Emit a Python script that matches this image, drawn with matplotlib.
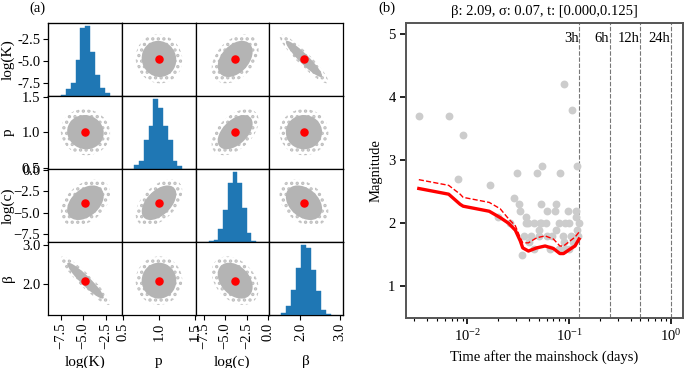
import numpy as np
import matplotlib
matplotlib.use("Agg")
import matplotlib.pyplot as plt
from matplotlib.patches import Ellipse
from matplotlib.ticker import FuncFormatter

plt.rcParams['font.family'] = ['Liberation Serif', 'DejaVu Serif']
plt.rcParams['mathtext.fontset'] = 'stix'
plt.rcParams['font.size'] = 10
plt.rcParams['hatch.linewidth'] = 1.6

# ---------------- Panel (a) data ----------------
param_names = ['log(K)', 'p', 'log(c)', 'β']
param_best = [-4.75, 1.0, -3.85, 2.09]          # red dots
param_std = [0.88, 0.105, 0.88, 0.20]           # spread of posterior cloud
# pairwise correlations of the posterior samples (i<j)
pair_corr = {(0, 1): -0.05, (0, 2): 0.40, (0, 3): -0.93,
             (1, 2): 0.50, (1, 3): 0.00, (2, 3): -0.35}
axis_limits = [(-8.9, -0.73), (0.48, 1.51), (-8.45, 0.1), (1.21, 3.08)]
axis_ticks = [[-7.5, -5.0, -2.5], [0.5, 1.0, 1.5], [-7.5, -5.0, -2.5, 0.0], [2.0, 3.0]]

# histograms (first bin edge, bin width, counts)
hist_start = [-7.5, 0.657, -6.87, 1.515]
hist_width = [0.55, 0.0665, 0.543, 0.125]
hist_counts = [
    [3, 20, 38, 108, 202, 208, 132, 63, 25, 9],
    [12, 25, 86, 128, 208, 182, 128, 86, 25, 10],
    [2, 7, 39, 94, 177, 207, 177, 101, 26, 3],
    [7, 28, 73, 140, 207, 200, 135, 72, 14, 4],
]

# ---------------- Panel (b) data ----------------
ev_time = [0.00334, 0.00656, 0.00914, 0.00816, 0.0167, 0.0307, 0.0482, 0.0543, 0.081, 0.0899,
           0.106, 0.119, 0.0285, 0.0324, 0.0330, 0.0200, 0.0264, 0.0376, 0.0376, 0.0531,
           0.0608, 0.0746, 0.0720, 0.097, 0.117, 0.117, 0.124, 0.0397, 0.0450, 0.0530,
           0.0594, 0.0786, 0.090, 0.100, 0.0356, 0.0421, 0.050, 0.0676, 0.0867, 0.105,
           0.122, 0.060, 0.0344, 0.040, 0.045, 0.065, 0.080, 0.090, 0.100, 0.110,
           0.050, 0.075, 0.088, 0.120, 0.052]
ev_mag = [3.7, 3.7, 3.4, 2.7, 2.6, 2.8, 2.8, 2.9, 2.8, 4.2,
          3.8, 2.9, 2.4, 2.3, 2.2, 2.1, 2.0, 2.1, 2.0, 2.3,
          2.2, 2.3, 2.2, 2.2, 2.2, 2.1, 2.0, 2.0, 2.0, 2.0,
          2.0, 2.0, 2.0, 2.0, 1.8, 1.8, 1.8, 1.8, 1.8, 1.8,
          1.8, 1.8, 1.5, 1.7, 1.6, 1.6, 1.6, 1.6, 1.6, 1.7,
          1.9, 1.9, 1.7, 1.9, 2.0]

mc_time = [0.00334, 0.00656, 0.0085, 0.0091, 0.0164, 0.0210, 0.0254, 0.0296, 0.0331, 0.0350,
           0.0398, 0.048, 0.058, 0.070, 0.081, 0.088, 0.102, 0.114, 0.125]
mc_solid = [2.55, 2.46, 2.30, 2.27, 2.19, 2.09, 2.00, 1.89, 1.72, 1.61,
            1.56, 1.61, 1.64, 1.60, 1.52, 1.52, 1.59, 1.64, 1.75]
mc_dashed = [2.69, 2.60, 2.46, 2.41, 2.33, 2.23, 2.07, 1.96, 1.77, 1.69,
             1.69, 1.77, 1.80, 1.75, 1.64, 1.64, 1.72, 1.78, 1.86]

vline_times = [0.125, 0.25, 0.5, 1.0]
vline_labels = ['3h', '6h', '12h', '24h']
title_b = 'β: 2.09, σ: 0.07, t: [0.000,0.125]'

fig = plt.figure(figsize=(6.85, 3.68), dpi=100)
W, H = 685.0, 368.0

minus_fmt = FuncFormatter(lambda v, pos: ('%.1f' % v).replace('-', '\u2212'))

# ---------------- Panel (a) ----------------
left, right, top, bottom = 48 / W, 343 / W, 1 - 23 / H, 1 - 315 / H
n = 4
cw = (right - left) / n
ch = (top - bottom) / n
cloud_color = '#b4b4b4'
for i in range(n):
    for j in range(n):
        ax = fig.add_axes([left + j * cw, top - (i + 1) * ch, cw, ch])
        ax.set_xlim(axis_limits[j])
        ax.set_ylim(axis_limits[i])
        for s in ax.spines.values():
            s.set_linewidth(0.9)
        if i == j:
            axh = ax.twinx()
            edges = hist_start[i] + hist_width[i] * np.arange(len(hist_counts[i]))
            axh.bar(edges, hist_counts[i], width=hist_width[i], align='edge',
                    color='#1f77b4', edgecolor='#1f77b4', linewidth=0.3)
            axh.set_yticks([])
            axh.set_ylim(0, max(hist_counts[i]) * 1.05)
        else:
            a, b = (min(i, j), max(i, j))
            r = pair_corr[(a, b)]
            sx, sy = param_std[j], param_std[i]
            cov = np.array([[sx * sx, r * sx * sy], [r * sx * sy, sy * sy]])
            vals, vecs = np.linalg.eigh(cov)
            ang = np.degrees(np.arctan2(vecs[1, 1], vecs[0, 1]))
            center = (param_best[j], param_best[i])
            for k, kw in [(3.1, dict(facecolor='none', edgecolor='#bdbdbd', hatch='...', linewidth=0)),
                          (2.3, dict(facecolor=cloud_color, edgecolor='none'))]:
                e = Ellipse(center, 2 * k * np.sqrt(vals[1]), 2 * k * np.sqrt(vals[0]),
                            angle=ang, **kw)
                ax.add_patch(e)
            ax.scatter([param_best[j]], [param_best[i]], s=26, color='red', zorder=5)
        ax.tick_params(direction='out', length=3.5, width=0.8, labelsize=10.5, pad=2)
        if j == 0:
            ax.set_yticks(axis_ticks[i])
            if i == 0:
                ax.set_yticklabels(['%.1f' % v for v in axis_ticks[i]])
            else:
                ax.yaxis.set_major_formatter(minus_fmt)
            ax.set_ylabel(param_names[i], fontsize=11)
            ax.yaxis.set_label_coords(-0.45, 0.5)
        else:
            ax.set_yticks([])
        if i == n - 1:
            ax.set_xticks(axis_ticks[j])
            ax.xaxis.set_major_formatter(minus_fmt)
            ax.tick_params(axis='x', labelrotation=90)
            ax.set_xlabel(param_names[j], fontsize=11)
            ax.xaxis.set_label_coords(0.5, -0.55)
        else:
            ax.set_xticks([])

fig.text(37 / W, 1 - 8 / H, '(a)', ha='center', va='center', fontsize=10.5)

# ---------------- Panel (b) ----------------
axb = fig.add_axes([406 / W, 1 - 318 / H, (683 - 406) / W, (318 - 23) / H])
axb.set_xscale('log')
axb.scatter(ev_time, ev_mag, s=32, color='#cccccc', zorder=2, linewidths=0)
axb.plot(mc_time, mc_solid, color='red', lw=2.4, zorder=3)
axb.plot(mc_time, mc_dashed, color='red', lw=1.0, ls='--', zorder=3)
for t, lab in zip(vline_times, vline_labels):
    axb.axvline(t, color='#777777', lw=0.8, ls='--', dashes=(4, 1.5), zorder=1)
    axb.text(t * 0.985, 4.93, lab, ha='right', va='center', fontsize=10.5)
axb.set_xlim(0.0025, 1.31)
axb.set_ylim(0.5, 5.17)
axb.set_yticks([1, 2, 3, 4, 5])
axb.set_xlabel('Time after the mainshock (days)', fontsize=10.5)
axb.set_ylabel('Magnitude', fontsize=10.5)
axb.set_title(title_b, fontsize=10.5, pad=6)
axb.tick_params(direction='out', length=4, width=1.2, labelsize=10.5)
axb.tick_params(which='minor', direction='out', length=2.5, width=0.8)
axb.tick_params(top=False, right=False, which='both')
for s in axb.spines.values():
    s.set_linewidth(1.4)
    s.set_color('#555555')
fig.text(387 / W, 1 - 8 / H, '(b)', ha='center', va='center', fontsize=10.5)

fig.savefig('out.png', dpi=100)
